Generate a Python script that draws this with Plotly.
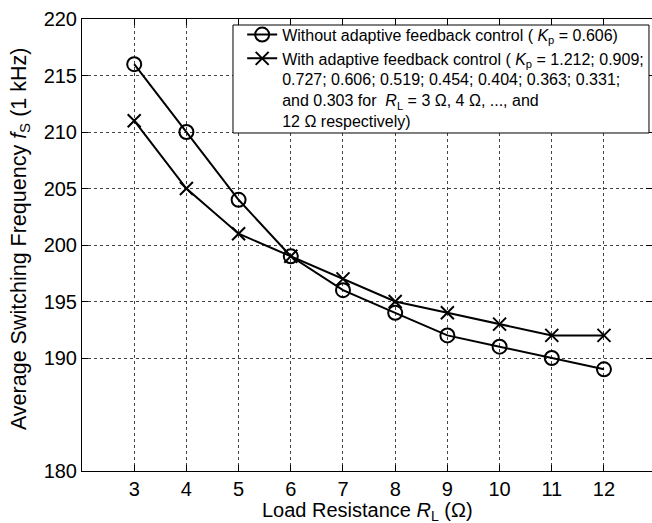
import plotly.graph_objects as go

load_resistance = [3, 4, 5, 6, 7, 8, 9, 10, 11, 12]
freq_without = [216, 210, 204, 199, 196, 194, 192, 191, 190, 189]
freq_with = [211, 205, 201, 199, 197, 195, 194, 193, 192, 192]
y_ticks = [180, 190, 195, 200, 205, 210, 215, 220]
x_ticks = [3, 4, 5, 6, 7, 8, 9, 10, 11, 12]

name_without = "Without adaptive feedback control ( <i>K</i><sub>p</sub> = 0.606)"
name_with = ("With adaptive feedback control ( <i>K</i><sub>p</sub> = 1.212; 0.909;<br>"
             "0.727; 0.606; 0.519; 0.454; 0.404; 0.363; 0.331;<br>"
             "and 0.303 for  <i>R</i><sub>L</sub> = 3 Ω, 4 Ω, ..., and<br>"
             "12 Ω respectively)")
x_title = "Load Resistance <i>R</i><sub>L</sub> (Ω)"
y_title = "Average Switching Frequency <i>f</i><sub>S</sub> (1 kHz)"

fig = go.Figure()
fig.add_trace(go.Scatter(
    x=load_resistance, y=freq_without, mode="lines+markers", name=name_without,
    line=dict(color="black", width=2),
    marker=dict(symbol="circle-open", size=14, color="black", line=dict(width=2)),
))
fig.add_trace(go.Scatter(
    x=load_resistance, y=freq_with, mode="lines+markers", name=name_with,
    line=dict(color="black", width=2),
    marker=dict(symbol="x-thin-open", size=13, color="black", line=dict(width=2)),
))

font = "Liberation Sans, Arial, Helvetica, sans-serif"
axis_common = dict(
    showline=True, linecolor="black", linewidth=1, mirror="ticks",
    ticks="inside", ticklen=6, tickcolor="black",
    showgrid=True, gridcolor="#444444", griddash="dot", gridwidth=1,
    zeroline=False, tickfont=dict(size=20, color="black", family=font),
)
fig.update_xaxes(range=[2, 12.92], tickvals=x_ticks, **axis_common)
fig.update_yaxes(range=[180, 220], tickvals=y_ticks, **axis_common)

# legend frame (opaque box like the original)
fig.add_shape(type="rect", xref="paper", yref="paper",
              x0=0.2649, x1=0.9947, y0=0.7478, y1=0.9867,
              fillcolor="white", line=dict(color="black", width=1), layer="above")

fig.add_annotation(text=x_title, xref="paper", yref="paper", x=0.5, y=-0.0565,
                   xanchor="center", yanchor="top", showarrow=False,
                   font=dict(size=20, color="black", family=font))
fig.add_annotation(text=y_title, xref="paper", yref="paper", x=-0.109, y=0.515,
                   xanchor="center", yanchor="middle", showarrow=False, textangle=-90,
                   font=dict(size=21.5, color="black", family=font))

fig.update_layout(
    width=652, height=523,
    margin=dict(l=82, r=0, t=19, b=52),
    plot_bgcolor="white", paper_bgcolor="white",
    font=dict(family=font, color="black", size=15),
    legend=dict(x=0.281, y=1.003, xanchor="left", yanchor="top",
                bgcolor="rgba(0,0,0,0)", borderwidth=0,
                font=dict(size=16, family=font, color="black"),
                valign="top", tracegroupgap=0, itemwidth=30),
    showlegend=True,
)

fig.write_html("out.html", config={"displayModeBar": False},
               post_script="document.body.style.margin='0';document.body.style.padding='0';")
